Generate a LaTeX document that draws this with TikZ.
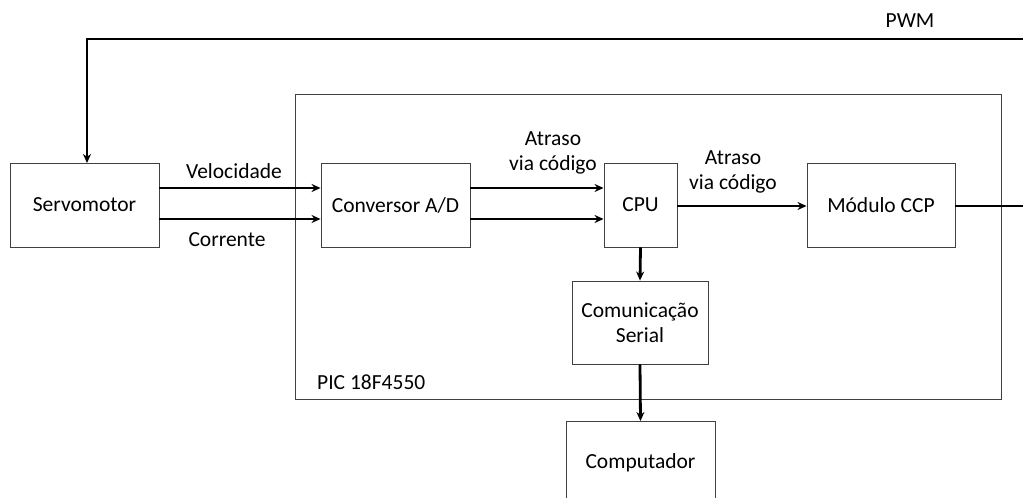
\documentclass[tikz,border=0pt]{standalone}
\usepackage{fontspec}
\setmainfont{Carlito}
\usetikzlibrary{arrows.meta}
\begin{document}
\begin{tikzpicture}[x=1pt,y=-1pt,
  blk/.style={draw=black!75,line width=0.9pt,fill=white,inner sep=0pt},
  lbl/.style={font=\fontsize{21.5}{25}\selectfont,align=center,inner sep=0pt},
  sig/.style={line width=2.8pt,-{Stealth[length=9pt,width=8pt]}},
  sign/.style={line width=2.8pt}]
\useasboundingbox (0,0) rectangle (1023,498);
\clip (0,0) rectangle (1023,498);
\fill[white] (0,0) rectangle (1023,498);
% PIC box
\node[blk,minimum width=706pt,minimum height=305pt,anchor=north west] (pic) at (295,94) {};
\node[lbl,anchor=west] (piclbl) at (317,382) {PIC 18F4550};
% blocks
\node[blk,minimum width=149pt,minimum height=84pt] (servo) at (84.5,205) {};
\node[lbl] at (servo) {Servomotor};
\node[blk,minimum width=149pt,minimum height=84pt] (ad) at (395.5,205) {};
\node[lbl] at (ad) {Conversor A/D};
\node[blk,minimum width=73pt,minimum height=84pt] (cpu) at (640.5,205) {};
\node[lbl] at (cpu) {CPU};
\node[blk,minimum width=148pt,minimum height=84pt] (ccp) at (881,205) {};
\node[lbl] at (ccp) {Módulo CCP};
\node[blk,minimum width=136pt,minimum height=83pt] (serial) at (640,322.5) {};
\node[lbl] at (serial) {Comunicação\\Serial};
\node[blk,minimum width=149pt,minimum height=90pt,anchor=north] (comp) at (640.5,421) {};
\node[lbl] at (640.5,463) {Computador};
% coordinates
\coordinate (pwmR) at (1023,39);
\coordinate (pwmL) at (87,39);
\coordinate (ccpR) at (1023,206);
% connectors
\draw[sign] (ccp.east |- 0,206) -- (ccpR);
\draw[sig] (pwmR) -- (pwmL) -- (87,163);
\draw[sig] (servo.east |- 0,188) -- (ad.west |- 0,188);
\draw[sig] (servo.east |- 0,219) -- (ad.west |- 0,219);
\draw[sig] (ad.east |- 0,188) -- (cpu.west |- 0,188);
\draw[sig] (ad.east |- 0,219) -- (cpu.west |- 0,219);
\draw[sig] (cpu.east |- 0,206) -- (ccp.west |- 0,206);
\draw[sig] (cpu.south) -- (serial.north);
\draw[sig] (serial.south) -- (comp.north);
% labels
\node[lbl] (pwm) at (910,21) {PWM};
\node[lbl] (vel) at (234,171) {Velocidade};
\node[lbl] (cor) at (227,240) {Corrente};
\node[lbl] (at1) at (553,153) {Atraso\\via código};
\node[lbl] (at2) at (733,172) {Atraso\\via código};
\end{tikzpicture}
\end{document}
